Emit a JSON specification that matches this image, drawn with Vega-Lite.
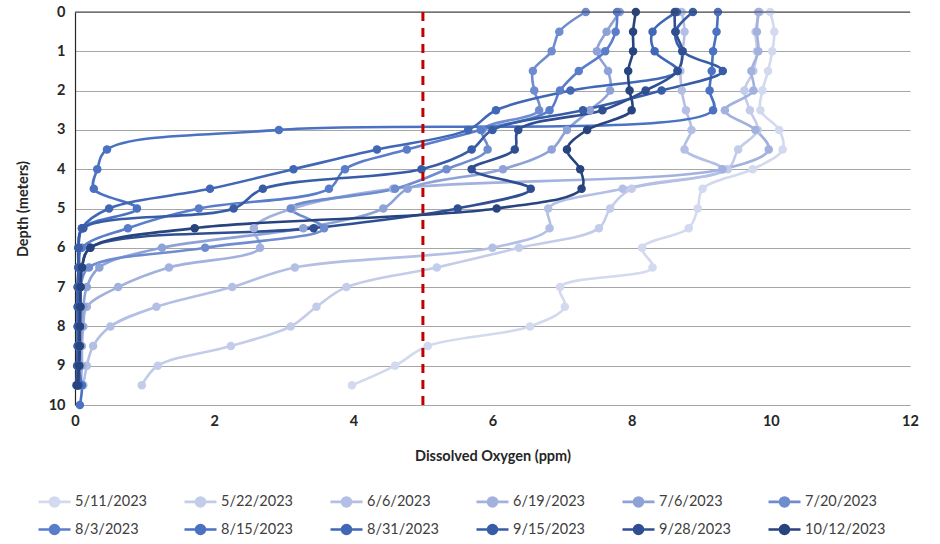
{
  "$schema": "https://vega.github.io/schema/vega-lite/v6.json",
  "width": 835,
  "height": 393,
  "autosize": {"type": "none"},
  "padding": {"left": 75, "top": 12, "right": 30, "bottom": 139},
  "background": "white",
  "config": {
    "font": "Lato",
    "view": {"stroke": null},
    "axis": {"labelFont": "Lato", "titleFont": "Lato"},
    "axisY": {"tickCount": 11},
    "axisX": {"tickCount": 7}
  },
  "datasets": {
    "profiles": [
      {"d":"5/11/2023","z":0,"v":9.99},{"d":"5/11/2023","z":0.5,"v":10.05},{"d":"5/11/2023","z":1,"v":10.02},{"d":"5/11/2023","z":1.5,"v":9.96},{"d":"5/11/2023","z":2,"v":9.88},{"d":"5/11/2023","z":2.5,"v":9.85},{"d":"5/11/2023","z":3,"v":10.12},{"d":"5/11/2023","z":3.5,"v":10.17},{"d":"5/11/2023","z":4,"v":9.74},{"d":"5/11/2023","z":4.5,"v":9.02},{"d":"5/11/2023","z":5,"v":8.95},{"d":"5/11/2023","z":5.5,"v":8.82},{"d":"5/11/2023","z":6,"v":8.15},{"d":"5/11/2023","z":6.5,"v":8.3},{"d":"5/11/2023","z":7,"v":6.97},{"d":"5/11/2023","z":7.5,"v":7.04},{"d":"5/11/2023","z":8,"v":6.54},{"d":"5/11/2023","z":8.5,"v":5.07},{"d":"5/11/2023","z":9,"v":4.6},{"d":"5/11/2023","z":9.5,"v":3.98},
      {"d":"5/22/2023","z":0,"v":9.84},{"d":"5/22/2023","z":0.5,"v":9.78},{"d":"5/22/2023","z":1,"v":9.8},{"d":"5/22/2023","z":1.5,"v":9.75},{"d":"5/22/2023","z":2,"v":9.62},{"d":"5/22/2023","z":2.5,"v":9.7},{"d":"5/22/2023","z":3,"v":9.81},{"d":"5/22/2023","z":3.5,"v":9.53},{"d":"5/22/2023","z":4,"v":9.38},{"d":"5/22/2023","z":4.5,"v":8.0},{"d":"5/22/2023","z":5,"v":7.69},{"d":"5/22/2023","z":5.5,"v":7.53},{"d":"5/22/2023","z":6,"v":6.38},{"d":"5/22/2023","z":6.5,"v":5.2},{"d":"5/22/2023","z":7,"v":3.9},{"d":"5/22/2023","z":7.5,"v":3.47},{"d":"5/22/2023","z":8,"v":3.1},{"d":"5/22/2023","z":8.5,"v":2.24},{"d":"5/22/2023","z":9,"v":1.19},{"d":"5/22/2023","z":9.5,"v":0.96},
      {"d":"6/6/2023","z":0,"v":8.72},{"d":"6/6/2023","z":0.5,"v":8.76},{"d":"6/6/2023","z":1,"v":8.73},{"d":"6/6/2023","z":1.5,"v":8.7},{"d":"6/6/2023","z":2,"v":8.72},{"d":"6/6/2023","z":2.5,"v":8.78},{"d":"6/6/2023","z":3,"v":8.86},{"d":"6/6/2023","z":3.5,"v":8.76},{"d":"6/6/2023","z":4,"v":9.31},{"d":"6/6/2023","z":4.5,"v":7.87},{"d":"6/6/2023","z":5,"v":6.8},{"d":"6/6/2023","z":5.5,"v":6.82},{"d":"6/6/2023","z":6,"v":6.0},{"d":"6/6/2023","z":6.5,"v":3.16},{"d":"6/6/2023","z":7,"v":2.26},{"d":"6/6/2023","z":7.5,"v":1.17},{"d":"6/6/2023","z":8,"v":0.51},{"d":"6/6/2023","z":8.5,"v":0.26},{"d":"6/6/2023","z":9,"v":0.17},{"d":"6/6/2023","z":9.5,"v":0.12},
      {"d":"6/19/2023","z":0,"v":9.82},{"d":"6/19/2023","z":0.5,"v":9.8},{"d":"6/19/2023","z":1,"v":9.82},{"d":"6/19/2023","z":1.5,"v":9.72},{"d":"6/19/2023","z":2,"v":9.75},{"d":"6/19/2023","z":2.5,"v":9.34},{"d":"6/19/2023","z":3,"v":9.78},{"d":"6/19/2023","z":3.5,"v":9.97},{"d":"6/19/2023","z":4,"v":9.3},{"d":"6/19/2023","z":4.5,"v":4.57},{"d":"6/19/2023","z":5,"v":3.13},{"d":"6/19/2023","z":5.5,"v":2.57},{"d":"6/19/2023","z":6,"v":2.66},{"d":"6/19/2023","z":6.5,"v":1.35},{"d":"6/19/2023","z":7,"v":0.62},{"d":"6/19/2023","z":7.5,"v":0.17},{"d":"6/19/2023","z":8,"v":0.12},{"d":"6/19/2023","z":8.5,"v":0.1},{"d":"6/19/2023","z":9,"v":0.1},{"d":"6/19/2023","z":9.5,"v":0.08},
      {"d":"7/6/2023","z":0,"v":7.83},{"d":"7/6/2023","z":0.5,"v":7.64},{"d":"7/6/2023","z":1,"v":7.5},{"d":"7/6/2023","z":1.5,"v":7.66},{"d":"7/6/2023","z":2,"v":7.69},{"d":"7/6/2023","z":2.5,"v":7.4},{"d":"7/6/2023","z":3,"v":7.07},{"d":"7/6/2023","z":3.5,"v":6.85},{"d":"7/6/2023","z":4,"v":6.15},{"d":"7/6/2023","z":4.5,"v":4.78},{"d":"7/6/2023","z":5,"v":4.43},{"d":"7/6/2023","z":5.5,"v":3.28},{"d":"7/6/2023","z":6,"v":1.25},{"d":"7/6/2023","z":6.5,"v":0.35},{"d":"7/6/2023","z":7,"v":0.17},{"d":"7/6/2023","z":7.5,"v":0.12},{"d":"7/6/2023","z":8,"v":0.1},{"d":"7/6/2023","z":8.5,"v":0.08},{"d":"7/6/2023","z":9,"v":0.08},{"d":"7/6/2023","z":9.5,"v":0.06},
      {"d":"7/20/2023","z":0,"v":7.34},{"d":"7/20/2023","z":0.5,"v":6.96},{"d":"7/20/2023","z":1,"v":6.85},{"d":"7/20/2023","z":1.5,"v":6.58},{"d":"7/20/2023","z":2,"v":6.6},{"d":"7/20/2023","z":2.5,"v":6.67},{"d":"7/20/2023","z":3,"v":5.85},{"d":"7/20/2023","z":3.5,"v":5.93},{"d":"7/20/2023","z":4,"v":5.34},{"d":"7/20/2023","z":4.5,"v":4.6},{"d":"7/20/2023","z":5,"v":3.1},{"d":"7/20/2023","z":5.5,"v":3.58},{"d":"7/20/2023","z":6,"v":1.87},{"d":"7/20/2023","z":6.5,"v":0.2},{"d":"7/20/2023","z":7,"v":0.08},{"d":"7/20/2023","z":7.5,"v":0.07},{"d":"7/20/2023","z":8,"v":0.06},{"d":"7/20/2023","z":8.5,"v":0.06},{"d":"7/20/2023","z":9,"v":0.05},{"d":"7/20/2023","z":9.5,"v":0.05},
      {"d":"8/3/2023","z":0,"v":7.79},{"d":"8/3/2023","z":0.5,"v":7.77},{"d":"8/3/2023","z":1,"v":7.62},{"d":"8/3/2023","z":1.5,"v":7.24},{"d":"8/3/2023","z":2,"v":6.97},{"d":"8/3/2023","z":2.5,"v":6.82},{"d":"8/3/2023","z":3,"v":5.83},{"d":"8/3/2023","z":3.5,"v":4.77},{"d":"8/3/2023","z":4,"v":3.88},{"d":"8/3/2023","z":4.5,"v":3.65},{"d":"8/3/2023","z":5,"v":1.78},{"d":"8/3/2023","z":5.5,"v":0.76},{"d":"8/3/2023","z":6,"v":0.1},{"d":"8/3/2023","z":6.5,"v":0.06},{"d":"8/3/2023","z":7,"v":0.05},{"d":"8/3/2023","z":7.5,"v":0.05},{"d":"8/3/2023","z":8,"v":0.05},{"d":"8/3/2023","z":8.5,"v":0.05},{"d":"8/3/2023","z":9,"v":0.05},{"d":"8/3/2023","z":9.5,"v":0.05},
      {"d":"8/15/2023","z":0,"v":9.24},{"d":"8/15/2023","z":0.5,"v":9.22},{"d":"8/15/2023","z":1,"v":9.17},{"d":"8/15/2023","z":1.5,"v":9.15},{"d":"8/15/2023","z":2,"v":9.12},{"d":"8/15/2023","z":2.5,"v":9.17},{"d":"8/15/2023","z":3,"v":2.93},{"d":"8/15/2023","z":3.5,"v":0.46},{"d":"8/15/2023","z":4,"v":0.32},{"d":"8/15/2023","z":4.5,"v":0.27},{"d":"8/15/2023","z":5,"v":0.89},{"d":"8/15/2023","z":5.5,"v":0.1},{"d":"8/15/2023","z":6,"v":0.05},{"d":"8/15/2023","z":6.5,"v":0.05},{"d":"8/15/2023","z":7,"v":0.04},{"d":"8/15/2023","z":7.5,"v":0.04},{"d":"8/15/2023","z":8,"v":0.04},{"d":"8/15/2023","z":8.5,"v":0.04},{"d":"8/15/2023","z":9,"v":0.04},{"d":"8/15/2023","z":9.5,"v":0.1},{"d":"8/15/2023","z":10,"v":0.07},
      {"d":"8/31/2023","z":0,"v":8.65},{"d":"8/31/2023","z":0.5,"v":8.3},{"d":"8/31/2023","z":1,"v":8.33},{"d":"8/31/2023","z":1.5,"v":8.66},{"d":"8/31/2023","z":2,"v":7.12},{"d":"8/31/2023","z":2.5,"v":6.05},{"d":"8/31/2023","z":3,"v":5.65},{"d":"8/31/2023","z":3.5,"v":4.34},{"d":"8/31/2023","z":4,"v":3.14},{"d":"8/31/2023","z":4.5,"v":1.94},{"d":"8/31/2023","z":5,"v":0.49},{"d":"8/31/2023","z":5.5,"v":0.1},{"d":"8/31/2023","z":6,"v":0.05},{"d":"8/31/2023","z":6.5,"v":0.05},{"d":"8/31/2023","z":7,"v":0.04},{"d":"8/31/2023","z":7.5,"v":0.04},{"d":"8/31/2023","z":8,"v":0.04},{"d":"8/31/2023","z":8.5,"v":0.04},{"d":"8/31/2023","z":9,"v":0.04},{"d":"8/31/2023","z":9.5,"v":0.02},
      {"d":"9/15/2023","z":0,"v":8.88},{"d":"9/15/2023","z":0.5,"v":8.63},{"d":"9/15/2023","z":1,"v":8.73},{"d":"9/15/2023","z":1.5,"v":9.31},{"d":"9/15/2023","z":2,"v":8.43},{"d":"9/15/2023","z":2.5,"v":7.3},{"d":"9/15/2023","z":3,"v":6.0},{"d":"9/15/2023","z":3.5,"v":5.7},{"d":"9/15/2023","z":4,"v":4.98},{"d":"9/15/2023","z":4.5,"v":2.7},{"d":"9/15/2023","z":5,"v":2.28},{"d":"9/15/2023","z":5.5,"v":0.12},{"d":"9/15/2023","z":6,"v":0.05},{"d":"9/15/2023","z":6.5,"v":0.05},{"d":"9/15/2023","z":7,"v":0.04},{"d":"9/15/2023","z":7.5,"v":0.04},{"d":"9/15/2023","z":8,"v":0.04},{"d":"9/15/2023","z":8.5,"v":0.04},{"d":"9/15/2023","z":9,"v":0.03},{"d":"9/15/2023","z":9.5,"v":0.03},
      {"d":"9/28/2023","z":0,"v":8.62},{"d":"9/28/2023","z":0.5,"v":8.63},{"d":"9/28/2023","z":1,"v":8.73},{"d":"9/28/2023","z":1.5,"v":8.66},{"d":"9/28/2023","z":2,"v":8.2},{"d":"9/28/2023","z":2.5,"v":7.58},{"d":"9/28/2023","z":3,"v":6.37},{"d":"9/28/2023","z":3.5,"v":6.32},{"d":"9/28/2023","z":4,"v":5.7},{"d":"9/28/2023","z":4.5,"v":6.55},{"d":"9/28/2023","z":5,"v":5.5},{"d":"9/28/2023","z":5.5,"v":3.43},{"d":"9/28/2023","z":6,"v":0.22},{"d":"9/28/2023","z":6.5,"v":0.1},{"d":"9/28/2023","z":7,"v":0.08},{"d":"9/28/2023","z":7.5,"v":0.07},{"d":"9/28/2023","z":8,"v":0.07},{"d":"9/28/2023","z":8.5,"v":0.06},{"d":"9/28/2023","z":9,"v":0.06},{"d":"9/28/2023","z":9.5,"v":0.05},
      {"d":"10/12/2023","z":0,"v":8.06},{"d":"10/12/2023","z":0.5,"v":8.02},{"d":"10/12/2023","z":1,"v":8.02},{"d":"10/12/2023","z":1.5,"v":7.95},{"d":"10/12/2023","z":2,"v":7.97},{"d":"10/12/2023","z":2.5,"v":8.0},{"d":"10/12/2023","z":3,"v":7.36},{"d":"10/12/2023","z":3.5,"v":7.07},{"d":"10/12/2023","z":4,"v":7.26},{"d":"10/12/2023","z":4.5,"v":7.28},{"d":"10/12/2023","z":5,"v":6.06},{"d":"10/12/2023","z":5.5,"v":1.72},{"d":"10/12/2023","z":6,"v":0.22},{"d":"10/12/2023","z":6.5,"v":0.1},{"d":"10/12/2023","z":7,"v":0.08},{"d":"10/12/2023","z":7.5,"v":0.08},{"d":"10/12/2023","z":8,"v":0.07},{"d":"10/12/2023","z":8.5,"v":0.07},{"d":"10/12/2023","z":9,"v":0.06},{"d":"10/12/2023","z":9.5,"v":0.03}
    ],
    "refs": [{"kind": "threshold", "v": 5}],
    "top": [{"kind": "surface", "z": 0}]
  },
  "layer": [
    {
      "data": {"name": "profiles"},
      "mark": {"type": "line", "interpolate": "catmull-rom", "strokeWidth": 2.6},
      "encoding": {
        "x": {"field": "v", "type": "quantitative",
          "scale": {"domain": [0, 12], "nice": false, "zero": false},
          "axis": {"values": [0, 2, 4, 6, 8, 10, 12], "tickCount": 7, "format": "d", "grid": false, "domain": false, "ticks": false, "labelOverlap": false, "labelFlush": false,
            "labelFontSize": 14.5, "labelFontWeight": "bold", "labelColor": "#262626", "labelPadding": 9,
            "title": "Dissolved Oxygen (ppm)", "titleFontSize": 14.5, "titleFontWeight": "bold", "titleColor": "#262626", "titlePadding": 22}},
        "y": {"field": "z", "type": "quantitative",
          "scale": {"domain": [0, 10], "reverse": true, "nice": false, "zero": false},
          "axis": {"values": [0, 1, 2, 3, 4, 5, 6, 7, 8, 9, 10], "tickCount": 11, "format": "d", "labelOverlap": false, "labelFlush": false, "grid": true, "gridColor": "#a6a6a6", "gridWidth": 1.2,
            "domain": true, "domainColor": "#262626", "domainWidth": 1.2, "ticks": false,
            "labelFontSize": 14.5, "labelFontWeight": "bold", "labelColor": "#262626", "labelPadding": 10,
            "title": "Depth (meters)", "titleFontSize": 14.5, "titleFontWeight": "bold", "titleColor": "#262626", "titlePadding": 18}},
        "color": {"field": "d", "type": "nominal",
          "scale": {"domain": ["5/11/2023","5/22/2023","6/6/2023","6/19/2023","7/6/2023","7/20/2023","8/3/2023","8/15/2023","8/31/2023","9/15/2023","9/28/2023","10/12/2023"],
            "range": ["#d3d9ee","#c3cce9","#b3bfe4","#a2b1de","#8ea2d8","#6f8ccf","#5a7dcb","#4b71c3","#4167b6","#385ca6","#2f4f92","#27447e"]},
          "legend": {"orient": "none", "legendX": -38, "legendY": 472, "direction": "horizontal", "columns": 6,
            "title": null, "labelFontSize": 14.5, "labelColor": "#404040", "labelFont": "Lato", "labelOffset": 3,
            "columnPadding": 32, "rowPadding": 0, "symbolSize": 1024, "symbolStrokeWidth": 2.6,
            "symbolType": "M-1,0L1,0M-0.28,0A0.28,0.28,0,1,1,0.28,0A0.28,0.28,0,1,1,-0.28,0Z",
            "encode": {"symbols": {"update": {"fill": {"scale": "color", "field": "value"}, "stroke": {"scale": "color", "field": "value"}, "fillOpacity": {"value": 1}, "strokeOpacity": {"value": 1}}}}}},
        "order": {"field": "z", "type": "quantitative"}
      }
    },
    {
      "data": {"name": "profiles"},
      "mark": {"type": "point", "filled": true, "size": 72, "opacity": 1},
      "encoding": {
        "x": {"field": "v", "type": "quantitative"},
        "y": {"field": "z", "type": "quantitative"},
        "color": {"field": "d", "type": "nominal", "legend": null}
      }
    },
    {
      "data": {"name": "top"},
      "mark": {"type": "rule", "color": "#404040", "strokeWidth": 1.2},
      "encoding": {
        "y": {"field": "z", "type": "quantitative"}
      }
    },
    {
      "data": {"name": "refs"},
      "mark": {"type": "rule", "color": "#c00000", "strokeWidth": 3, "strokeDash": [9, 7]},
      "encoding": {
        "x": {"field": "v", "type": "quantitative"}
      }
    }
  ]
}
